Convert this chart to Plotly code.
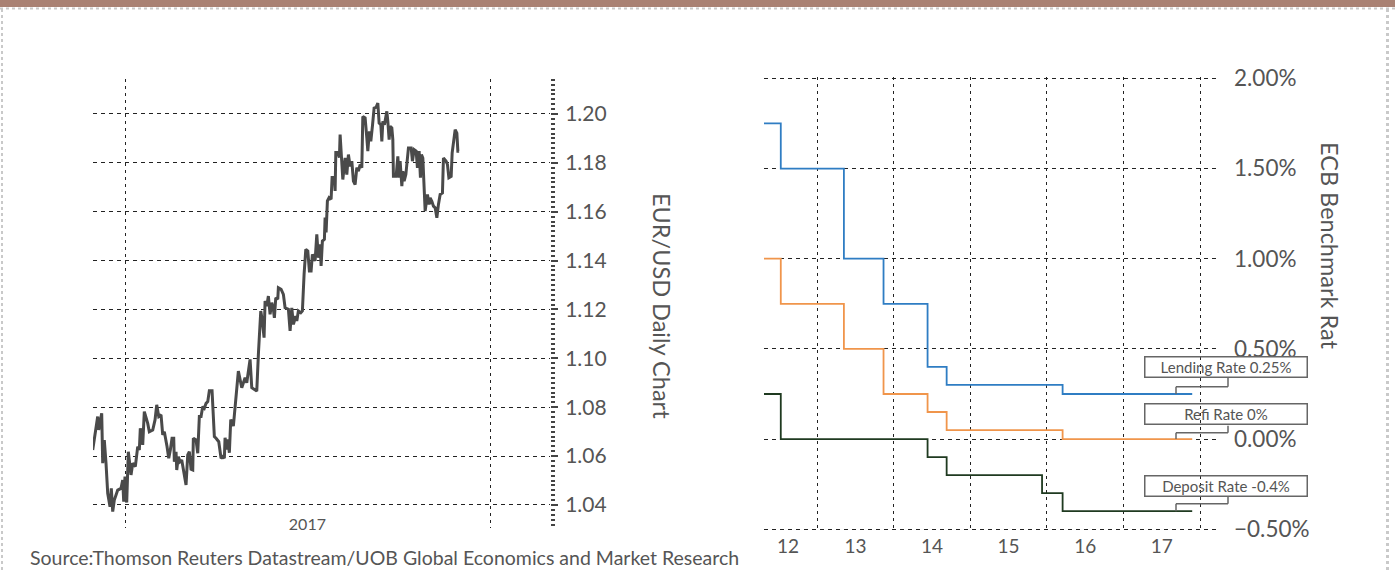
import pandas as pd
import plotly.graph_objects as go

W, H = 1395, 571

# ---------------- EUR/USD daily (left panel) ----------------
eur_base = "2017-01-01"
# days since 2017-01-01
eur_day = [-32.6, -27.6, -26.6, -23.6, -22.6, -21.0, -19.3, -17.6, -15.3, -14.0,
           -12.6, -11.0, -7.6, -4.3, -2.6, -1.6, -0.3, 1.4, 3.0, 5.7,
           7.4, 10.0, 12.4, 14.0, 15.0, 17.4, 19.0, 22.4, 24.0, 27.4,
           29.7, 31.4, 33.4, 35.7, 37.4, 39.0, 41.7, 43.4, 45.0, 46.7,
           48.4, 49.0, 50.7, 51.4, 53.0, 54.7, 56.4, 58.0, 59.7, 60.7,
           62.4, 64.0, 65.7, 67.4, 68.0, 70.7, 72.4, 74.0, 75.7, 77.4,
           79.0, 80.7, 82.4, 84.0, 86.7, 88.0, 89.0, 90.7, 93.4, 95.7,
           97.4, 99.0, 99.7, 101.4, 102.4, 104.0, 105.4, 108.0, 109.7, 113.0,
           116.4, 119.7, 121.4, 123.7, 124.7, 126.4, 129.7, 131.4, 133.0, 135.4,
           137.0, 138.7, 139.7, 141.4, 143.0, 144.7, 146.4, 148.0, 149.0, 150.4,
           152.4, 153.0, 155.7, 158.0, 159.7, 163.0, 164.7, 166.4, 168.0, 170.4,
           171.4, 173.0, 175.4, 177.0, 178.7, 180.4, 182.4, 184.0, 185.7, 187.0,
           188.0, 189.7, 191.4, 193.0, 194.7, 195.7, 197.0, 199.0, 199.7, 200.7,
           202.0, 203.7, 205.7, 206.7, 209.0, 209.7, 210.4, 212.4, 214.0, 214.7,
           217.4, 219.7, 221.4, 223.0, 224.7, 226.4, 228.0, 229.7, 231.4, 233.0,
           234.7, 236.4, 237.4, 239.7, 241.4, 242.4, 244.0, 245.4, 247.0, 248.7,
           250.7, 252.4, 253.7, 255.4, 256.4, 257.4, 259.0, 260.4, 261.4, 262.4,
           263.7, 264.7, 266.4, 267.4, 268.0, 270.7, 272.4, 273.7, 274.7, 276.4,
           277.4, 278.7, 280.4, 283.0, 285.7, 287.0, 288.7, 290.7, 292.0, 293.7,
           295.0, 296.0, 297.4, 299.7, 302.0, 303.7, 304.7, 306.4, 308.0, 309.7,
           311.4, 313.0, 314.7, 317.0, 318.0, 320.7, 322.0, 323.4, 325.7, 326.7,
           328.0, 329.7, 331.4, 332.4, 333.7]
eur_usd = [1.0625, 1.0762, 1.0707, 1.0775, 1.0571, 1.0666, 1.0571, 1.0448, 1.0393, 1.0468,
           1.0373, 1.0420, 1.0461, 1.0468, 1.0502, 1.0414, 1.0516, 1.0410, 1.0618, 1.0523,
           1.0571, 1.0557, 1.0639, 1.0625, 1.0714, 1.0646, 1.0782, 1.0734, 1.0700, 1.0707,
           1.0748, 1.0810, 1.0762, 1.0769, 1.0687, 1.0700, 1.0639, 1.0591, 1.0625, 1.0673,
           1.0673, 1.0577, 1.0618, 1.0543, 1.0598, 1.0577, 1.0584, 1.0543, 1.0516, 1.0482,
           1.0605, 1.0618, 1.0546, 1.0543, 1.0673, 1.0666, 1.0612, 1.0762, 1.0762, 1.0803,
           1.0796, 1.0816, 1.0823, 1.0868, 1.0868, 1.0775, 1.0680, 1.0673, 1.0659, 1.0591,
           1.0598, 1.0591, 1.0675, 1.0627, 1.0668, 1.0614, 1.0750, 1.0723, 1.0798, 1.0948,
           1.0880, 1.0921, 1.0900, 1.0962, 1.0996, 1.0880, 1.0873, 1.0866, 1.1016, 1.1194,
           1.1153, 1.1085, 1.1235, 1.1214, 1.1255, 1.1180, 1.1228, 1.1201, 1.1166, 1.1248,
           1.1242, 1.1289, 1.1283, 1.1262, 1.1207, 1.1201, 1.1112, 1.1207, 1.1139, 1.1173,
           1.1153, 1.1194, 1.1187, 1.1194, 1.1344, 1.1446, 1.1439, 1.1358, 1.1358, 1.1426,
           1.1412, 1.1399, 1.1508, 1.1412, 1.1467, 1.1378, 1.1480, 1.1487, 1.1576, 1.1515,
           1.1644, 1.1658, 1.1651, 1.1740, 1.1740, 1.1685, 1.1842, 1.1842, 1.1822, 1.1916,
           1.1732, 1.1820, 1.1752, 1.1834, 1.1786, 1.1807, 1.1725, 1.1711, 1.1780, 1.1766,
           1.1793, 1.1780, 1.1990, 1.1984, 1.1902, 1.1848, 1.1929, 1.1888, 1.1950, 1.2024,
           1.2027, 1.2045, 1.1963, 1.1956, 1.1888, 1.1970, 1.1956, 1.1997, 1.2011, 1.1970,
           1.1895, 1.1950, 1.1943, 1.1895, 1.1745, 1.1745, 1.1827, 1.1739, 1.1807, 1.1705,
           1.1766, 1.1725, 1.1752, 1.1861, 1.1861, 1.1807, 1.1854, 1.1848, 1.1780, 1.1848,
           1.1739, 1.1834, 1.1820, 1.1603, 1.1671, 1.1630, 1.1657, 1.1643, 1.1623, 1.1616,
           1.1575, 1.1630, 1.1671, 1.1677, 1.1820, 1.1807, 1.1793, 1.1739, 1.1745, 1.1841,
           1.1875, 1.1936, 1.1922, 1.1848, 1.1848]
eur_tick_vals = ["2017-07-02"]
eur_tick_text = ["2017"]
eur_year_lines = ["2017-01-01", "2018-01-01"]

# ---------------- ECB benchmark rates (right panel) ----------------
ecb_dates = ["2012-04-22", "2012-07-11", "2013-05-08", "2013-11-13", "2014-06-11",
             "2014-09-10", "2015-12-09", "2016-03-16", "2017-11-24"]
lending_rate = [1.75, 1.50, 1.00, 0.75, 0.40, 0.30, 0.30, 0.25, 0.25]
refi_rate = [1.00, 0.75, 0.50, 0.25, 0.15, 0.05, 0.05, 0.00, 0.00]
deposit_rate = [0.25, 0.00, 0.00, 0.00, -0.10, -0.20, -0.30, -0.40, -0.40]
ecb_tick_vals = ["2012-08-15", "2013-07-02", "2014-07-02", "2015-07-02", "2016-07-02", "2017-07-02"]
ecb_tick_text = ["12", "13", "14", "15", "16", "17"]
ecb_year_lines = ["2013-01-01", "2014-01-01", "2015-01-01", "2016-01-01", "2017-01-01", "2018-01-01"]

# ---------------- helpers ----------------
def px(x):
    return x / W

def py(y):
    return 1 - y / H

FONT = "Lato"
TXT = "#555555"
GRID = "#222222"

base = pd.Timestamp(eur_base)
eur_x = base + pd.to_timedelta(eur_day, unit="D")
left_range = [base + pd.Timedelta(days=-32.3), base + pd.Timedelta(days=424.5)]

fig = go.Figure()
fig.add_trace(go.Scatter(x=eur_x, y=eur_usd, mode="lines",
                         line=dict(color="#4a4a4a", width=3), xaxis="x", yaxis="y",
                         hoverinfo="skip"))
fig.add_trace(go.Scatter(x=ecb_dates, y=lending_rate, mode="lines", line_shape="hv",
                         line=dict(color="#2f7dc3", width=1.8), xaxis="x2", yaxis="y2",
                         name="Lending Rate"))
fig.add_trace(go.Scatter(x=ecb_dates, y=refi_rate, mode="lines", line_shape="hv",
                         line=dict(color="#f0954b", width=1.8), xaxis="x2", yaxis="y2",
                         name="Refi Rate"))
fig.add_trace(go.Scatter(x=ecb_dates, y=deposit_rate, mode="lines", line_shape="hv",
                         line=dict(color="#1f3a20", width=1.8), xaxis="x2", yaxis="y2",
                         name="Deposit Rate"))

grid_dash = "4px,4px"
vgrid_dash = "3px,4px"

fig.update_layout(
    template="none",
    width=W, height=H, margin=dict(l=0, r=0, t=0, b=0, autoexpand=False),
    paper_bgcolor="white", plot_bgcolor="white", showlegend=False,
    font=dict(family=FONT, color=TXT),
    xaxis=dict(domain=[px(93), px(550)], anchor="y", type="date", range=left_range,
               automargin=False,
               tickmode="array", tickvals=eur_tick_vals, ticktext=eur_tick_text,
               showgrid=False, zeroline=False, showline=False, ticks="",
               tickfont=dict(size=16, color=TXT), ticklabelstandoff=-15,
               minor=dict(tickmode="array", tickvals=eur_year_lines, showgrid=True,
                          gridcolor=GRID, gridwidth=1, griddash=vgrid_dash, ticks="")),
    yaxis=dict(domain=[py(527.5), py(79)], anchor="x", side="right",
               automargin=False,
               range=[1.03079, 1.21432], dtick=0.02, tick0=0, tickformat=".2f",
               showgrid=True, gridcolor=GRID, gridwidth=1, griddash=grid_dash,
               zeroline=False, showline=False,
               ticks="outside", ticklen=7, tickwidth=1.5, tickcolor="#444444",
               tickfont=dict(size=21, color=TXT), ticklabelstandoff=3,
               minor=dict(dtick=0.002, tick0=0, ticks="outside", ticklen=4,
                          tickwidth=1.5, tickcolor="#444444", showgrid=False)),
    xaxis2=dict(domain=[px(764), px(1218)], anchor="y2", type="date",
                automargin=False,
                range=["2012-04-22", "2018-03-27"],
                tickmode="array", tickvals=ecb_tick_vals, ticktext=ecb_tick_text,
                showgrid=False, zeroline=False, showline=False, ticks="",
                tickfont=dict(size=19, color=TXT), ticklabelstandoff=2,
                minor=dict(tickmode="array", tickvals=ecb_year_lines, showgrid=True,
                           gridcolor=GRID, gridwidth=1, griddash=vgrid_dash, ticks="")),
    yaxis2=dict(domain=[py(530.7), py(76.9)], anchor="x2", side="right",
                automargin=False,
                range=[-0.508, 2.008], dtick=0.5, tick0=0, tickformat=".2f", ticksuffix="%",
                showgrid=True, gridcolor=GRID, gridwidth=1, griddash=grid_dash,
                zeroline=False, showline=False, ticks="",
                tickfont=dict(size=22.5, color=TXT), ticklabelstandoff=15),
)

annotations = [
    dict(text="EUR/USD Daily Chart", xref="paper", yref="paper", x=px(662), y=py(306),
         textangle=90, showarrow=False, font=dict(size=23.5, color=TXT),
         xanchor="center", yanchor="middle"),
    dict(text="ECB Benchmark Rat", xref="paper", yref="paper", x=px(1330), y=py(246),
         textangle=90, showarrow=False, font=dict(size=23.5, color=TXT),
         xanchor="center", yanchor="middle"),
    dict(text="Source:Thomson Reuters Datastream/UOB Global Economics and Market Research",
         xref="paper", yref="paper", x=px(28), y=py(557), showarrow=False,
         font=dict(size=19.5, color=TXT), xanchor="left", yanchor="middle"),
]

callouts = [("Lending Rate 0.25%", 0.401, 0.339, 0.290, lending_rate[-1]),
            ("Refi Rate 0%", 0.137, 0.074, 0.035, refi_rate[-1]),
            ("Deposit Rate -0.4%", -0.259, -0.319, -0.358, deposit_rate[-1])]
shapes = [
    dict(type="rect", xref="paper", yref="paper", x0=0, x1=1, y0=py(7), y1=1,
         fillcolor="#a98173", line=dict(width=0), layer="above"),
    dict(type="line", xref="paper", yref="paper", x0=0, x1=1, y0=py(8.5), y1=py(8.5),
         line=dict(color="#c9c9c9", width=2, dash="dot")),
    dict(type="line", xref="paper", yref="paper", x0=px(2), x1=px(2), y0=py(9), y1=0,
         line=dict(color="#c9c9c9", width=2, dash="dot")),
    dict(type="line", xref="paper", yref="paper", x0=px(1387.5), x1=px(1387.5), y0=py(9), y1=0,
         line=dict(color="#c9c9c9", width=3, dash="dot")),
]
for label, yc, ybox, yelb, yend in callouts:
    annotations.append(dict(text=label, xref="paper", yref="y2", x=px(1225.5), y=yc,
                            showarrow=False, width=161, height=19, borderpad=0,
                            bordercolor="#666666", borderwidth=1.5,
                            font=dict(size=15, color=TXT), align="center",
                            xanchor="center", yanchor="middle"))
    seg = dict(color="#666666", width=1.5)
    shapes.append(dict(type="line", xref="paper", yref="y2", x0=px(1228), x1=px(1228),
                       y0=ybox, y1=yelb, line=seg))
    shapes.append(dict(type="line", xref="paper", yref="y2", x0=px(1228), x1=px(1176),
                       y0=yelb, y1=yelb, line=seg))
    shapes.append(dict(type="line", xref="paper", yref="y2", x0=px(1176), x1=px(1176),
                       y0=yelb, y1=yend, line=seg))

fig.update_layout(annotations=annotations, shapes=shapes)

fig.write_html("out.html", config={"displayModeBar": False},
               post_script="document.body.style.margin='0';document.body.style.overflow='hidden';")
